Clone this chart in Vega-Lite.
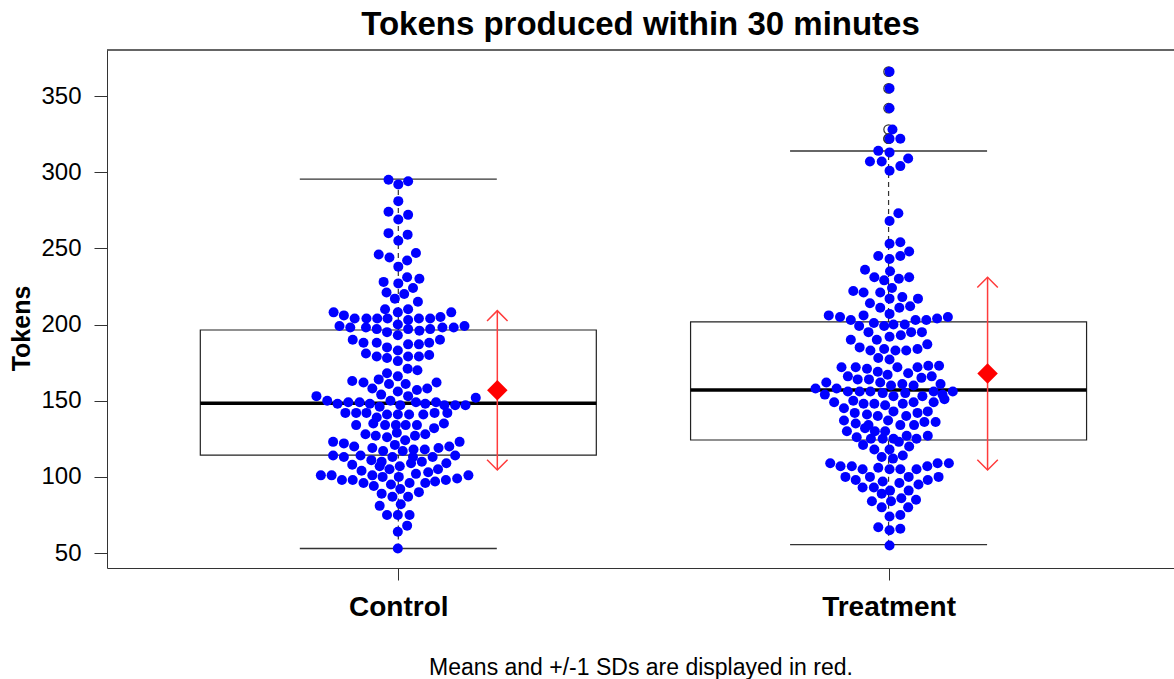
{
  "$schema": "https://vega.github.io/schema/vega-lite/v6.json",
  "width": 1067,
  "height": 518,
  "autosize": "none",
  "padding": {"left": 107, "top": 50, "right": 0, "bottom": 111},
  "background": "white",
  "config": {"view": {"stroke": null}, "font": "Liberation Sans"},
  "title": {"text": "Tokens produced within 30 minutes", "fontSize": 33, "fontWeight": "bold", "font": "Liberation Sans", "color": "black", "anchor": "middle", "offset": 7},
  "datasets": {
    "stats": [
      {"grp": 1, "lo": 53, "q1": 114.3, "med": 148.3, "q3": 196.4, "hi": 295.5, "mean": 156.8, "sdlo": 104.5, "sdhi": 209.1},
      {"grp": 2, "lo": 55.5, "q1": 124.2, "med": 157, "q3": 201.7, "hi": 313.9, "mean": 167.8, "sdlo": 104.5, "sdhi": 231}
    ],
    "pts": [
      {"grp":1,"x":0.980,"tokens":295},{"grp":1,"x":1.000,"tokens":292},{"grp":1,"x":1.020,"tokens":294},{"grp":1,"x":1.000,"tokens":281},
      {"grp":1,"x":0.980,"tokens":274},{"grp":1,"x":1.000,"tokens":269},{"grp":1,"x":1.020,"tokens":272},{"grp":1,"x":0.980,"tokens":260},
      {"grp":1,"x":1.000,"tokens":255},{"grp":1,"x":1.019,"tokens":259},{"grp":1,"x":0.960,"tokens":246},{"grp":1,"x":0.982,"tokens":244},
      {"grp":1,"x":1.000,"tokens":238},{"grp":1,"x":1.018,"tokens":242},{"grp":1,"x":1.036,"tokens":247},{"grp":1,"x":0.970,"tokens":228},
      {"grp":1,"x":1.000,"tokens":227},{"grp":1,"x":1.018,"tokens":231},{"grp":1,"x":1.043,"tokens":230},{"grp":1,"x":0.976,"tokens":221},
      {"grp":1,"x":1.012,"tokens":220},{"grp":1,"x":1.030,"tokens":224},{"grp":1,"x":0.993,"tokens":217},{"grp":1,"x":1.040,"tokens":215},
      {"grp":1,"x":0.868,"tokens":208},{"grp":1,"x":0.889,"tokens":206},{"grp":1,"x":0.911,"tokens":204},{"grp":1,"x":0.935,"tokens":204},
      {"grp":1,"x":0.957,"tokens":204},{"grp":1,"x":0.973,"tokens":210},{"grp":1,"x":0.978,"tokens":204},{"grp":1,"x":0.999,"tokens":208},
      {"grp":1,"x":1.020,"tokens":210},{"grp":1,"x":1.020,"tokens":203},{"grp":1,"x":1.042,"tokens":204},{"grp":1,"x":1.065,"tokens":204},
      {"grp":1,"x":1.086,"tokens":205},{"grp":1,"x":1.108,"tokens":208},{"grp":1,"x":0.880,"tokens":199},{"grp":1,"x":0.902,"tokens":198},
      {"grp":1,"x":0.934,"tokens":198},{"grp":1,"x":0.956,"tokens":197},{"grp":1,"x":0.977,"tokens":195},{"grp":1,"x":0.999,"tokens":200},
      {"grp":1,"x":0.999,"tokens":193},{"grp":1,"x":1.020,"tokens":197},{"grp":1,"x":1.043,"tokens":196},{"grp":1,"x":1.065,"tokens":197},
      {"grp":1,"x":1.090,"tokens":198},{"grp":1,"x":1.113,"tokens":198},{"grp":1,"x":1.135,"tokens":199},{"grp":1,"x":0.907,"tokens":190},
      {"grp":1,"x":0.929,"tokens":188},{"grp":1,"x":0.956,"tokens":188},{"grp":1,"x":0.977,"tokens":185},{"grp":1,"x":1.020,"tokens":187},
      {"grp":1,"x":1.042,"tokens":187},{"grp":1,"x":1.063,"tokens":188},{"grp":1,"x":1.085,"tokens":190},{"grp":1,"x":0.934,"tokens":181},
      {"grp":1,"x":0.956,"tokens":179},{"grp":1,"x":0.977,"tokens":178},{"grp":1,"x":0.999,"tokens":183},{"grp":1,"x":0.999,"tokens":176},
      {"grp":1,"x":1.020,"tokens":179},{"grp":1,"x":1.042,"tokens":179},{"grp":1,"x":1.063,"tokens":180},{"grp":1,"x":0.977,"tokens":168},
      {"grp":1,"x":0.999,"tokens":166},{"grp":1,"x":1.019,"tokens":171},{"grp":1,"x":1.039,"tokens":170},{"grp":1,"x":0.906,"tokens":163},
      {"grp":1,"x":0.929,"tokens":162},{"grp":1,"x":0.947,"tokens":158},{"grp":1,"x":0.960,"tokens":164},{"grp":1,"x":0.981,"tokens":161},
      {"grp":1,"x":0.999,"tokens":156},{"grp":1,"x":1.015,"tokens":161},{"grp":1,"x":1.038,"tokens":157},{"grp":1,"x":1.059,"tokens":158},
      {"grp":1,"x":1.078,"tokens":162},{"grp":1,"x":0.965,"tokens":154},{"grp":1,"x":1.020,"tokens":153},{"grp":1,"x":0.833,"tokens":153},
      {"grp":1,"x":0.855,"tokens":150},{"grp":1,"x":0.876,"tokens":148},{"grp":1,"x":0.898,"tokens":149},{"grp":1,"x":0.921,"tokens":149},
      {"grp":1,"x":0.942,"tokens":148},{"grp":1,"x":0.962,"tokens":146},{"grp":1,"x":0.984,"tokens":150},{"grp":1,"x":1.004,"tokens":147},
      {"grp":1,"x":1.036,"tokens":149},{"grp":1,"x":1.055,"tokens":148},{"grp":1,"x":1.077,"tokens":149},{"grp":1,"x":1.094,"tokens":147},
      {"grp":1,"x":1.116,"tokens":147},{"grp":1,"x":1.137,"tokens":147},{"grp":1,"x":1.158,"tokens":152},{"grp":1,"x":0.892,"tokens":142},
      {"grp":1,"x":0.914,"tokens":142},{"grp":1,"x":0.935,"tokens":142},{"grp":1,"x":0.956,"tokens":139},{"grp":1,"x":0.977,"tokens":141},
      {"grp":1,"x":0.999,"tokens":141},{"grp":1,"x":1.022,"tokens":141},{"grp":1,"x":1.051,"tokens":141},{"grp":1,"x":1.074,"tokens":142},
      {"grp":1,"x":1.100,"tokens":142},{"grp":1,"x":0.914,"tokens":134},{"grp":1,"x":0.949,"tokens":135},{"grp":1,"x":0.973,"tokens":134},
      {"grp":1,"x":0.995,"tokens":134},{"grp":1,"x":1.015,"tokens":134},{"grp":1,"x":1.038,"tokens":134},{"grp":1,"x":1.073,"tokens":132},
      {"grp":1,"x":1.093,"tokens":135},{"grp":1,"x":0.933,"tokens":128},{"grp":1,"x":0.954,"tokens":127},{"grp":1,"x":0.977,"tokens":126},
      {"grp":1,"x":0.997,"tokens":129},{"grp":1,"x":1.014,"tokens":124},{"grp":1,"x":1.034,"tokens":127},{"grp":1,"x":1.055,"tokens":128},
      {"grp":1,"x":0.867,"tokens":123},{"grp":1,"x":0.889,"tokens":122},{"grp":1,"x":0.910,"tokens":120},{"grp":1,"x":0.947,"tokens":119},
      {"grp":1,"x":0.969,"tokens":117},{"grp":1,"x":0.993,"tokens":121},{"grp":1,"x":1.009,"tokens":117},{"grp":1,"x":1.031,"tokens":118},
      {"grp":1,"x":1.054,"tokens":118},{"grp":1,"x":1.082,"tokens":119},{"grp":1,"x":1.104,"tokens":120},{"grp":1,"x":1.125,"tokens":123},
      {"grp":1,"x":0.867,"tokens":114},{"grp":1,"x":0.889,"tokens":113},{"grp":1,"x":0.923,"tokens":114},{"grp":1,"x":0.945,"tokens":111},
      {"grp":1,"x":0.966,"tokens":110},{"grp":1,"x":0.988,"tokens":113},{"grp":1,"x":1.030,"tokens":113},{"grp":1,"x":1.048,"tokens":110},
      {"grp":1,"x":1.070,"tokens":113},{"grp":1,"x":1.116,"tokens":114},{"grp":1,"x":0.906,"tokens":108},{"grp":1,"x":1.003,"tokens":107},
      {"grp":1,"x":1.026,"tokens":109},{"grp":1,"x":1.098,"tokens":109},{"grp":1,"x":0.925,"tokens":104},{"grp":1,"x":0.962,"tokens":107},
      {"grp":1,"x":0.982,"tokens":105},{"grp":1,"x":1.036,"tokens":102},{"grp":1,"x":1.061,"tokens":103},{"grp":1,"x":1.081,"tokens":105},
      {"grp":1,"x":0.842,"tokens":101},{"grp":1,"x":0.864,"tokens":101},{"grp":1,"x":0.885,"tokens":98},{"grp":1,"x":0.907,"tokens":98},
      {"grp":1,"x":0.929,"tokens":96},{"grp":1,"x":0.947,"tokens":101},{"grp":1,"x":0.968,"tokens":100},{"grp":1,"x":1.001,"tokens":100},
      {"grp":1,"x":0.985,"tokens":95},{"grp":1,"x":1.023,"tokens":96},{"grp":1,"x":1.055,"tokens":96},{"grp":1,"x":1.075,"tokens":97},
      {"grp":1,"x":1.097,"tokens":98},{"grp":1,"x":1.120,"tokens":99},{"grp":1,"x":1.143,"tokens":101},{"grp":1,"x":0.950,"tokens":94},
      {"grp":1,"x":1.004,"tokens":92},{"grp":1,"x":0.966,"tokens":89},{"grp":1,"x":0.988,"tokens":87},{"grp":1,"x":1.020,"tokens":87},
      {"grp":1,"x":1.042,"tokens":90},{"grp":1,"x":0.962,"tokens":81},{"grp":1,"x":1.005,"tokens":82},{"grp":1,"x":0.977,"tokens":75},
      {"grp":1,"x":0.999,"tokens":75},{"grp":1,"x":1.023,"tokens":75},{"grp":1,"x":1.018,"tokens":68},{"grp":1,"x":0.999,"tokens":64},
      {"grp":1,"x":0.999,"tokens":53},
      {"grp":2,"x":2.002,"tokens":366},{"grp":2,"x":2.002,"tokens":355},{"grp":2,"x":2.002,"tokens":342},{"grp":2,"x":2.008,"tokens":328},
      {"grp":2,"x":2.002,"tokens":322},{"grp":2,"x":2.024,"tokens":322},{"grp":2,"x":1.979,"tokens":314},{"grp":2,"x":2.002,"tokens":313},
      {"grp":2,"x":1.962,"tokens":307},{"grp":2,"x":1.986,"tokens":307},{"grp":2,"x":2.002,"tokens":301},{"grp":2,"x":2.024,"tokens":304},
      {"grp":2,"x":2.040,"tokens":309},{"grp":2,"x":2.020,"tokens":273},{"grp":2,"x":2.002,"tokens":268},{"grp":2,"x":2.002,"tokens":253},
      {"grp":2,"x":2.024,"tokens":254},{"grp":2,"x":2.042,"tokens":248},{"grp":2,"x":1.979,"tokens":245},{"grp":2,"x":2.002,"tokens":243},
      {"grp":2,"x":2.024,"tokens":245},{"grp":2,"x":1.952,"tokens":236},{"grp":2,"x":2.003,"tokens":235},{"grp":2,"x":1.971,"tokens":231},
      {"grp":2,"x":1.991,"tokens":229},{"grp":2,"x":2.021,"tokens":230},{"grp":2,"x":2.042,"tokens":231},{"grp":2,"x":1.928,"tokens":222},
      {"grp":2,"x":1.949,"tokens":221},{"grp":2,"x":1.983,"tokens":221},{"grp":2,"x":2.007,"tokens":224},{"grp":2,"x":2.002,"tokens":217},
      {"grp":2,"x":1.962,"tokens":214},{"grp":2,"x":2.028,"tokens":218},{"grp":2,"x":2.060,"tokens":217},{"grp":2,"x":1.983,"tokens":211},
      {"grp":2,"x":2.022,"tokens":211},{"grp":2,"x":2.044,"tokens":212},{"grp":2,"x":2.002,"tokens":207},{"grp":2,"x":1.878,"tokens":206},
      {"grp":2,"x":1.901,"tokens":205},{"grp":2,"x":1.923,"tokens":203},{"grp":2,"x":1.949,"tokens":206},{"grp":2,"x":1.970,"tokens":201},
      {"grp":2,"x":1.940,"tokens":199},{"grp":2,"x":1.991,"tokens":199},{"grp":2,"x":2.010,"tokens":200},{"grp":2,"x":2.033,"tokens":200},
      {"grp":2,"x":2.055,"tokens":203},{"grp":2,"x":2.077,"tokens":203},{"grp":2,"x":2.099,"tokens":204},{"grp":2,"x":2.121,"tokens":205},
      {"grp":2,"x":1.959,"tokens":195},{"grp":2,"x":2.046,"tokens":195},{"grp":2,"x":2.068,"tokens":195},{"grp":2,"x":1.923,"tokens":190},
      {"grp":2,"x":1.976,"tokens":190},{"grp":2,"x":2.002,"tokens":192},{"grp":2,"x":2.025,"tokens":193},{"grp":2,"x":1.941,"tokens":185},
      {"grp":2,"x":1.963,"tokens":183},{"grp":2,"x":1.991,"tokens":184},{"grp":2,"x":2.014,"tokens":183},{"grp":2,"x":2.036,"tokens":183},
      {"grp":2,"x":2.059,"tokens":184},{"grp":2,"x":2.079,"tokens":187},{"grp":2,"x":1.979,"tokens":178},{"grp":2,"x":2.002,"tokens":177},
      {"grp":2,"x":1.904,"tokens":172},{"grp":2,"x":1.933,"tokens":172},{"grp":2,"x":1.956,"tokens":171},{"grp":2,"x":1.978,"tokens":169},
      {"grp":2,"x":2.018,"tokens":172},{"grp":2,"x":2.059,"tokens":172},{"grp":2,"x":2.081,"tokens":173},{"grp":2,"x":2.103,"tokens":173},
      {"grp":2,"x":1.917,"tokens":166},{"grp":2,"x":1.937,"tokens":164},{"grp":2,"x":1.960,"tokens":164},{"grp":2,"x":1.998,"tokens":167},
      {"grp":2,"x":2.040,"tokens":168},{"grp":2,"x":2.067,"tokens":165},{"grp":2,"x":2.088,"tokens":166},{"grp":2,"x":1.873,"tokens":162},
      {"grp":2,"x":1.894,"tokens":158},{"grp":2,"x":1.917,"tokens":156},{"grp":2,"x":1.941,"tokens":156},{"grp":2,"x":1.963,"tokens":156},
      {"grp":2,"x":1.983,"tokens":162},{"grp":2,"x":2.005,"tokens":160},{"grp":2,"x":2.028,"tokens":161},{"grp":2,"x":2.051,"tokens":160},
      {"grp":2,"x":2.106,"tokens":161},{"grp":2,"x":1.851,"tokens":158},{"grp":2,"x":1.870,"tokens":154},{"grp":2,"x":1.988,"tokens":155},
      {"grp":2,"x":2.034,"tokens":155},{"grp":2,"x":2.069,"tokens":153},{"grp":2,"x":2.092,"tokens":156},{"grp":2,"x":2.110,"tokens":154},
      {"grp":2,"x":2.131,"tokens":156},{"grp":2,"x":1.889,"tokens":149},{"grp":2,"x":1.928,"tokens":150},{"grp":2,"x":1.949,"tokens":148},
      {"grp":2,"x":1.971,"tokens":148},{"grp":2,"x":1.993,"tokens":147},{"grp":2,"x":2.010,"tokens":153},{"grp":2,"x":2.029,"tokens":148},
      {"grp":2,"x":2.051,"tokens":149},{"grp":2,"x":2.092,"tokens":149},{"grp":2,"x":2.114,"tokens":151},{"grp":2,"x":1.909,"tokens":145},
      {"grp":2,"x":1.931,"tokens":142},{"grp":2,"x":1.956,"tokens":141},{"grp":2,"x":1.978,"tokens":140},{"grp":2,"x":2.010,"tokens":143},
      {"grp":2,"x":2.036,"tokens":140},{"grp":2,"x":2.059,"tokens":142},{"grp":2,"x":2.080,"tokens":143},{"grp":2,"x":1.909,"tokens":137},
      {"grp":2,"x":1.933,"tokens":135},{"grp":2,"x":1.959,"tokens":134},{"grp":2,"x":1.999,"tokens":137},{"grp":2,"x":2.024,"tokens":134},
      {"grp":2,"x":2.052,"tokens":134},{"grp":2,"x":2.073,"tokens":136},{"grp":2,"x":2.096,"tokens":136},{"grp":2,"x":1.915,"tokens":130},
      {"grp":2,"x":1.935,"tokens":126},{"grp":2,"x":1.952,"tokens":132},{"grp":2,"x":1.972,"tokens":130},{"grp":2,"x":1.993,"tokens":130},
      {"grp":2,"x":2.010,"tokens":125},{"grp":2,"x":2.037,"tokens":127},{"grp":2,"x":2.057,"tokens":125},{"grp":2,"x":2.080,"tokens":127},
      {"grp":2,"x":1.964,"tokens":125},{"grp":2,"x":1.988,"tokens":125},{"grp":2,"x":1.948,"tokens":121},{"grp":2,"x":1.971,"tokens":118},
      {"grp":2,"x":2.002,"tokens":118},{"grp":2,"x":2.021,"tokens":123},{"grp":2,"x":2.042,"tokens":120},{"grp":2,"x":1.986,"tokens":113},
      {"grp":2,"x":2.009,"tokens":112},{"grp":2,"x":2.029,"tokens":114},{"grp":2,"x":1.881,"tokens":109},{"grp":2,"x":1.902,"tokens":107},
      {"grp":2,"x":1.925,"tokens":107},{"grp":2,"x":1.947,"tokens":105},{"grp":2,"x":1.979,"tokens":106},{"grp":2,"x":2.002,"tokens":105},
      {"grp":2,"x":2.024,"tokens":105},{"grp":2,"x":2.057,"tokens":105},{"grp":2,"x":2.079,"tokens":107},{"grp":2,"x":2.100,"tokens":109},
      {"grp":2,"x":2.123,"tokens":109},{"grp":2,"x":1.912,"tokens":100},{"grp":2,"x":1.933,"tokens":98},{"grp":2,"x":1.962,"tokens":100},
      {"grp":2,"x":1.988,"tokens":97},{"grp":2,"x":2.022,"tokens":96},{"grp":2,"x":2.041,"tokens":100},{"grp":2,"x":2.061,"tokens":95},
      {"grp":2,"x":2.080,"tokens":98},{"grp":2,"x":2.102,"tokens":100},{"grp":2,"x":1.947,"tokens":93},{"grp":2,"x":1.970,"tokens":93},
      {"grp":2,"x":2.003,"tokens":91},{"grp":2,"x":2.041,"tokens":91},{"grp":2,"x":1.986,"tokens":89},{"grp":2,"x":2.026,"tokens":86},
      {"grp":2,"x":2.056,"tokens":85},{"grp":2,"x":1.966,"tokens":84},{"grp":2,"x":2.005,"tokens":84},{"grp":2,"x":1.986,"tokens":80},
      {"grp":2,"x":2.040,"tokens":80},{"grp":2,"x":2.002,"tokens":74},{"grp":2,"x":2.024,"tokens":75},{"grp":2,"x":1.979,"tokens":67},
      {"grp":2,"x":2.002,"tokens":65},{"grp":2,"x":2.024,"tokens":66},{"grp":2,"x":2.002,"tokens":55}
    ]
  },
  "encoding": {
    "x": {"type": "quantitative", "scale": {"domain": [0.416, 2.572], "nice": false, "zero": false},
      "axis": {"values": [1, 2], "labelExpr": "datum.value == 1 ? 'Control' : 'Treatment'", "grid": false,
        "labelFontSize": 28, "labelFontWeight": "bold", "labelColor": "black", "labelFont": "Liberation Sans",
        "tickSize": 12, "tickColor": "#333", "domainColor": "#333", "labelPadding": 13, "labelFlush": false,
        "title": "Means and +/-1 SDs are displayed in red.", "titleFontSize": 23, "titleFontWeight": "normal",
        "titleColor": "black", "titleFont": "Liberation Sans", "titlePadding": 35}},
    "y": {"type": "quantitative", "scale": {"domain": [40.2, 380.2], "nice": false, "zero": false},
      "axis": {"values": [50, 100, 150, 200, 250, 300, 350], "grid": false, "labelFontSize": 24, "labelColor": "black",
        "labelFont": "Liberation Sans", "tickSize": 13, "tickColor": "#333", "domainColor": "#333", "labelPadding": 13,
        "title": "Tokens", "titleFontSize": 25, "titleFontWeight": "bold", "titleColor": "black", "titleFont": "Liberation Sans",
        "titlePadding": 6, "titleY": 278}}
  },
  "layer": [
    {"data": {"name": "stats"}, "mark": {"type": "rule", "color": "#333", "strokeWidth": 1.2, "strokeDash": [5, 4]},
      "encoding": {"x": {"field": "grp"}, "y": {"field": "q3"}, "y2": {"field": "hi"}}},
    {"data": {"name": "stats"}, "mark": {"type": "rule", "color": "#333", "strokeWidth": 1.2, "strokeDash": [5, 4]},
      "encoding": {"x": {"field": "grp"}, "y": {"field": "lo"}, "y2": {"field": "q1"}}},
    {"data": {"name": "stats"}, "mark": {"type": "bar", "size": 396, "fill": "white", "stroke": "#222", "strokeWidth": 1.2, "opacity": 1},
      "encoding": {"x": {"field": "grp"}, "y": {"field": "q1"}, "y2": {"field": "q3"}}},
    {"data": {"name": "stats"}, "mark": {"type": "tick", "orient": "horizontal", "size": 197, "thickness": 1.3, "color": "#333", "opacity": 1},
      "encoding": {"x": {"field": "grp"}, "y": {"field": "hi"}}},
    {"data": {"name": "stats"}, "mark": {"type": "tick", "orient": "horizontal", "size": 197, "thickness": 1.3, "color": "#333", "opacity": 1},
      "encoding": {"x": {"field": "grp"}, "y": {"field": "lo"}}},
    {"data": {"name": "stats"}, "mark": {"type": "tick", "orient": "horizontal", "size": 396, "thickness": 3.5, "color": "black", "opacity": 1},
      "encoding": {"x": {"field": "grp"}, "y": {"field": "med"}}},
    {"data": {"name": "pts"}, "transform": [{"filter": "datum.grp == 2 && datum.tokens > 315"}],
      "mark": {"type": "point", "filled": false, "stroke": "#333", "strokeWidth": 1.2, "size": 90, "opacity": 1},
      "encoding": {"x": {"field": "grp"}, "y": {"field": "tokens"}}},
    {"data": {"name": "pts"}, "mark": {"type": "circle", "color": "#0000ff", "size": 100, "opacity": 1},
      "encoding": {"x": {"field": "x"}, "y": {"field": "tokens"}}},
    {"data": {"name": "stats"}, "mark": {"type": "rule", "color": "#ff3b3b", "strokeWidth": 1.5, "xOffset": 99},
      "encoding": {"x": {"field": "grp"}, "y": {"field": "sdlo"}, "y2": {"field": "sdhi"}}},
    {"data": {"name": "stats"}, "mark": {"type": "point", "shape": "M-1,1L0,0L1,1", "filled": false, "stroke": "#ff3b3b", "strokeWidth": 1.5, "size": 420, "opacity": 1, "xOffset": 99},
      "encoding": {"x": {"field": "grp"}, "y": {"field": "sdhi"}}},
    {"data": {"name": "stats"}, "mark": {"type": "point", "shape": "M-1,-1L0,0L1,-1", "filled": false, "stroke": "#ff3b3b", "strokeWidth": 1.5, "size": 420, "opacity": 1, "xOffset": 99},
      "encoding": {"x": {"field": "grp"}, "y": {"field": "sdlo"}}},
    {"data": {"name": "stats"}, "mark": {"type": "point", "shape": "diamond", "filled": true, "color": "#ff0000", "size": 420, "opacity": 1, "xOffset": 99},
      "encoding": {"x": {"field": "grp"}, "y": {"field": "mean"}}},
    {"data": {"name": "stats"}, "mark": {"type": "rule", "color": "#333", "strokeWidth": 1.2},
      "encoding": {"y": {"datum": 380.2}}}
  ]
}
